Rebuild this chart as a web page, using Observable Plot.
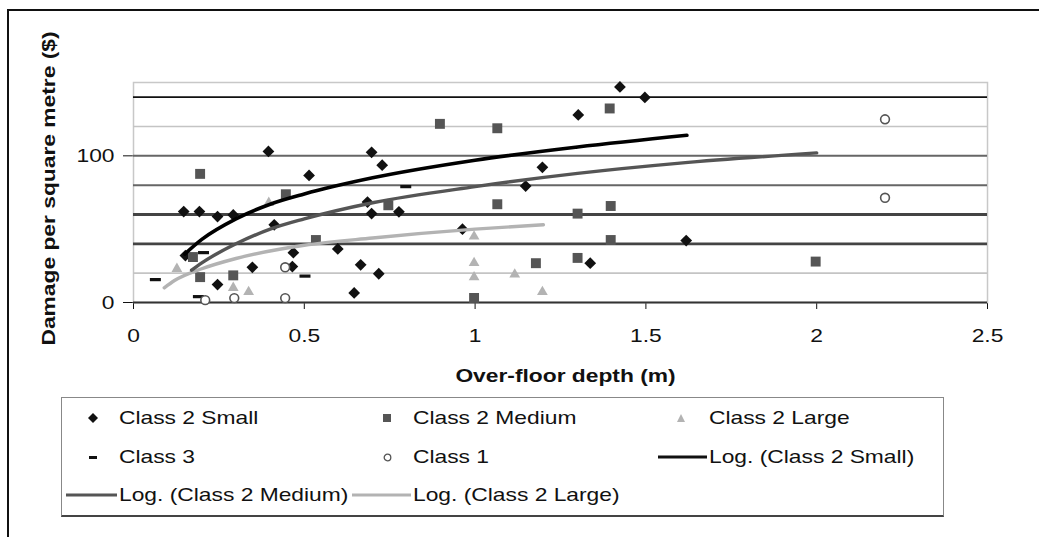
<!DOCTYPE html>
<html><head><meta charset="utf-8">
<script src="https://cdn.jsdelivr.net/npm/d3@7"></script>
<script src="https://cdn.jsdelivr.net/npm/@observablehq/plot@0.6"></script>
<style>
body{margin:0;background:#fff;font-family:"Liberation Sans",Arial,sans-serif;}
#fig{position:relative;width:1039px;height:537px;overflow:hidden;background:#fff;}
#border{position:absolute;left:7px;top:9px;width:1100px;height:600px;border-top:2px solid #111;border-left:2px solid #111;}
#chart{position:absolute;left:0;top:0;}
#legend{position:absolute;left:61px;top:397px;width:883px;height:120px;border:1px solid #888;border-bottom:2px solid #444;box-sizing:border-box;}
.sw{position:absolute;line-height:0;}
.sw svg{display:block;}
.lt{position:absolute;font-size:19px;line-height:22px;color:#111;white-space:nowrap;transform:scaleX(1.2);transform-origin:left center;}
</style></head>
<body>
<div id="fig"><div id="border"></div><div id="chart"></div><div id="legend"></div></div>
<script>
// ---- data ----
const xTicks = [0, 0.5, 1, 1.5, 2, 2.5];
const xTickLabels = ["0", "0.5", "1", "1.5", "2", "2.5"];
const yTicks = [0, 100];
const yTickLabels = ["0", "100"];
const gridValues = [20, 40, 60, 80, 100, 120, 140];

const smallX = [0.147,0.193,0.246,0.292,0.395,0.514,0.412,0.697,0.728,0.685,0.697,0.777,0.598,0.348,0.246,0.665,0.718,0.646,0.468,0.152,0.465,1.424,1.497,1.302,1.197,1.148,0.963,1.618,1.337];
const smallY = [62,62,58.6,59.7,103,86.6,53,102.4,93.6,68.5,60.6,61.8,36.5,24,12.2,25.7,19.6,6.5,34,32,24.5,147,139.8,127.9,92.2,79.4,50,42.2,26.8];

const mediumX = [0.195,0.446,0.534,0.746,0.174,0.195,0.292,0.897,1.065,1.394,1.065,1.3,1.397,1.397,1.178,1.3,0.997,1.997];
const mediumY = [87.7,73.8,42.6,66.3,31,17.3,18.5,121.8,118.8,132.3,67,60.6,65.8,42.6,26.8,30.4,3.1,27.9];

const largeX = [0.127,0.337,0.292,0.997,0.997,0.997,1.116,1.197,0.396];
const largeY = [23,7.2,10,45,27,17.3,19.1,7.2,68];

const class3X = [0.064,0.19,0.205,0.502,0.797];
const class3Y = [15.6,4,34,18,79];

const class1X = [0.21,0.295,0.444,0.444,2.2,2.2];
const class1Y = [1.6,3,3,24,124.9,71.4];

const smallTrendX = [0.15,0.2,0.3,0.4,0.5,0.7,1.0,1.3,1.62];
const smallTrendY = [33,43,57,67,74,85,97,106,114];
const mediumTrendX = [0.17,0.2,0.3,0.4,0.5,0.7,1.0,1.3,1.6,2.0];
const mediumTrendY = [22,27,40,50,57,68,79,88,95,102];
const largeTrendX = [0.09,0.12,0.2,0.3,0.5,0.7,1.0,1.2];
const largeTrendY = [10,15,23,30,39,44,50,53];

const legendLabels = ["Class 2 Small","Class 2 Medium","Class 2 Large","Class 3","Class 1","Log. (Class 2 Small)","Log. (Class 2 Medium)","Log. (Class 2 Large)"];
const xLabel = "Over-floor depth (m)";
const yLabel = "Damage per square metre ($)";

// ---- build ----
const pts = (xs, ys) => xs.map((x, i) => ({x, y: ys[i]}));
const small = pts(smallX, smallY), medium = pts(mediumX, mediumY), large = pts(largeX, largeY);
const class3 = pts(class3X, class3Y), class1 = pts(class1X, class1Y);
const tSmall = pts(smallTrendX, smallTrendY), tMedium = pts(mediumTrendX, mediumTrendY), tLarge = pts(largeTrendX, largeTrendY);

const dashSymbol = {draw(ctx){ ctx.moveTo(-5.5,-1.6); ctx.lineTo(5.5,-1.6); ctx.lineTo(5.5,1.6); ctx.lineTo(-5.5,1.6); ctx.closePath(); }};

const C_MED = "#555", C_LRG = "#b3b3b3";
const gridStyle = v => v === 140 ? {stroke:"#111", w:1.6} : (v === 120 || v === 20) ? {stroke:"#c4c4c4", w:1.6} : (v === 100 || v === 80) ? {stroke:"#666", w:2} : {stroke:"#444", w:2.8};
const gridMarks = gridValues.map(v => { const s = gridStyle(v); return Plot.ruleY(gridValues.filter(g => g === v), {stroke: s.stroke, strokeWidth: s.w}); });

const chart = Plot.plot({
  width: 1039, height: 395,
  marginLeft: 133, marginRight: 52, marginTop: 82, marginBottom: 93,
  style: {fontFamily: '"Liberation Sans", Arial, sans-serif', fontSize: "19px", color: "#111", background: "transparent", overflow: "visible"},
  x: {domain: [0, 2.5], ticks: xTicks, tickFormat: d => xTickLabels[xTicks.indexOf(d)], tickSize: 7, tickPadding: 19, label: null},
  y: {domain: [0, 150], ticks: yTicks, tickFormat: d => yTickLabels[yTicks.indexOf(d)], tickSize: 10, tickPadding: 9, label: null},
  marks: [
    Plot.frame({stroke: "#c8c8c8", strokeWidth: 1.5}),
    ...gridMarks,
    Plot.ruleY([0], {stroke: "#333", strokeWidth: 2.2}),
    Plot.dot(small, {x: "x", y: "y", symbol: "diamond2", r: 5.3, fill: "#111", stroke: "none"}),
    Plot.dot(medium, {x: "x", y: "y", symbol: "square", r: 5.6, fill: C_MED, stroke: "none"}),
    Plot.dot(large, {x: "x", y: "y", symbol: "triangle", r: 4, fill: C_LRG, stroke: "none"}),
    Plot.dot(class3, {x: "x", y: "y", symbol: dashSymbol, r: 4, fill: "#111", stroke: "none"}),
    Plot.dot(class1, {x: "x", y: "y", symbol: "circle", r: 4.4, fill: "#fff", stroke: "#555", strokeWidth: 1.6}),
    Plot.line(tLarge, {x: "x", y: "y", curve: "monotone-x", stroke: C_LRG, strokeWidth: 3.4}),
    Plot.line(tMedium, {x: "x", y: "y", curve: "monotone-x", stroke: C_MED, strokeWidth: 3.4}),
    Plot.line(tSmall, {x: "x", y: "y", curve: "monotone-x", stroke: "#000", strokeWidth: 3.6}),
    Plot.text([xLabel], {frameAnchor: "bottom", textAnchor: "middle", dy: 79, dx: 5, fontWeight: "bold", fontSize: 19, fill: "#111"}),
    Plot.text([yLabel], {frameAnchor: "left", textAnchor: "middle", rotate: -90, dx: -85, dy: -4, fontWeight: "bold", fontSize: 19, fill: "#111"})
  ]
});
chart.querySelectorAll("text").forEach(t => {
  const tr = t.getAttribute("transform") || "";
  t.setAttribute("transform", (tr + " scale(1.2,1)").trim());
});
document.getElementById("chart").appendChild(chart);

// ---- legend ----
const L = document.getElementById("legend");
const ox = 62, oy = 398;
const rows = [418, 457, 495];
function svgEl(x, y, w, h, inner){
  const d = document.createElement("div");
  d.className = "sw";
  d.style.left = (x - ox) + "px"; d.style.top = (y - oy) + "px";
  d.innerHTML = `<svg width="${w}" height="${h}" viewBox="0 0 ${w} ${h}">${inner}</svg>`;
  L.appendChild(d);
}
function label(x, y, text){
  const s = document.createElement("div");
  s.className = "lt"; s.textContent = text;
  s.style.left = (x - ox) + "px"; s.style.top = (y - oy - 11) + "px";
  L.appendChild(s);
}
const items = [
  {col: 0, row: 0, type: "diamond"}, {col: 1, row: 0, type: "square"}, {col: 2, row: 0, type: "triangle"},
  {col: 0, row: 1, type: "dash"}, {col: 1, row: 1, type: "circle"}, {col: 2, row: 1, type: "lineS"},
  {col: 0, row: 2, type: "lineM"}, {col: 1, row: 2, type: "lineL"}
];
const markX = [93, 387, 681], textX = [119, 413, 709], lineX = [[66, 117], [352, 411], [658, 707]];
items.forEach((it, i) => {
  const y = rows[it.row], mx = markX[it.col];
  if (it.type === "diamond") svgEl(mx - 5, y - 5, 10, 10, `<path d="M5 0L10 5L5 10L0 5Z" fill="#111"/>`);
  if (it.type === "square") svgEl(mx - 4, y - 4, 8, 8, `<rect width="8" height="8" fill="${C_MED}"/>`);
  if (it.type === "triangle") svgEl(mx - 4, y - 4, 8, 8, `<path d="M4 0L8 8L0 8Z" fill="${C_LRG}"/>`);
  if (it.type === "dash") svgEl(mx - 4, y - 1.5, 8, 3, `<rect width="8" height="3" fill="#111"/>`);
  if (it.type === "circle") svgEl(mx - 4, y - 4, 9, 9, `<circle cx="4.5" cy="4.5" r="3.3" fill="#fff" stroke="#555" stroke-width="1.3"/>`);
  if (it.type.startsWith("line")) {
    const [a, b] = lineX[it.col];
    const c = it.type === "lineS" ? "#111" : it.type === "lineM" ? C_MED : C_LRG;
    svgEl(a, y - 2, b - a, 4, `<rect width="${b - a}" height="3" y="0.5" fill="${c}"/>`);
  }
  label(textX[it.col], y, legendLabels[i]);
});
</script>
</body></html>
